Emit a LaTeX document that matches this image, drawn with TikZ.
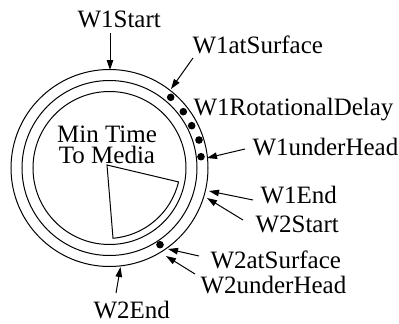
\documentclass[tikz,border=0pt]{standalone}
\usepackage{fontspec}
\setmainfont{Liberation Serif}
\usetikzlibrary{arrows.meta,calc}

\begin{document}
\begin{tikzpicture}[x=1bp,y=-1bp,line width=1bp,
  lbl/.style={inner sep=0pt,anchor=base west,font=\fontsize{25bp}{30bp}\selectfont},
  ptr/.style={-{Triangle[length=10bp,width=6.5bp]}},
  blip/.style={circle,fill,draw,inner sep=0pt,minimum size=6.5bp}]
\useasboundingbox (0,0) rectangle (399,324);

% platter tracks
\coordinate (c) at (109.5,168);
\draw (c) circle[radius=98.5];
\draw (c) circle[radius=87.5];
\draw (c) circle[radius=76.5];

% minimum time wedge
\coordinate (apex) at (107,165);
\draw (apex) -- ++(13.3:73.5) arc[start angle=13.3,end angle=85.3,radius=73.5] -- cycle;
\node[inner sep=0pt,anchor=north,align=center,
      font=\fontsize{25bp}{21.5bp}\selectfont] (mintime) at (107,125)
      {Min Time\\To Media};

% rotational delay marks
\node[blip] (d1) at (170.7,97.3) {};
\node[blip] (d2) at (183.3,111.7) {};
\node[blip] (d3) at (191.7,125.7) {};
\node[blip] (d4) at (199,140) {};
\node[blip] (d5) at (201,156.7) {};
\node[blip] (d6) at (160,244.7) {};

% labels
\node[lbl] (w1start)  at (77,27)   {W1Start};
\node[lbl] (w1atsurf) at (192,53)  {W1atSurface};
\node[lbl] (w1rot)    at (193,115) {W1RotationalDelay};
\node[lbl] (w1under)  at (252,155) {W1underHead};
\node[lbl] (w1end)    at (260,203) {W1End};
\node[lbl] (w2start)  at (255,232) {W2Start};
\node[lbl] (w2atsurf) at (210,268) {W2atSurface};
\node[lbl] (w2under)  at (200,293) {W2underHead};
\node[lbl] (w2end)    at (93,318)  {W2End};

% arrow targets on the tracks
\coordinate (t1start)  at (110,70);
\coordinate (t1atsurf) at (171,89);
\coordinate (t1under)  at (207,158);
\coordinate (t1end)    at (209,191);
\coordinate (t2start)  at (207,198);
\coordinate (t2atsurf) at (168,249);
\coordinate (t2under)  at (166,256);
\coordinate (t2end)    at (120.5,267);

\draw[ptr] ($(w1start.base west)+(33,6)$)   -- (t1start);
\draw[ptr] ($(w1atsurf.base west)+(1,5)$)   -- (t1atsurf);
\draw[ptr] ($(w1under.base west)+(-7,-6)$)  -- (t1under);
\draw[ptr] ($(w1end.base west)+(-7,-3)$)    -- (t1end);
\draw[ptr] ($(w2start.base west)+(-12,-12)$) -- (t2start);
\draw[ptr] ($(w2atsurf.base west)+(-11,-12)$) -- (t2atsurf);
\draw[ptr] ($(w2under.base west)+(-5,-19)$) -- (t2under);
\draw[ptr] ($(w2end.base west)+(23,-25)$)   -- (t2end);
\end{tikzpicture}
\end{document}
